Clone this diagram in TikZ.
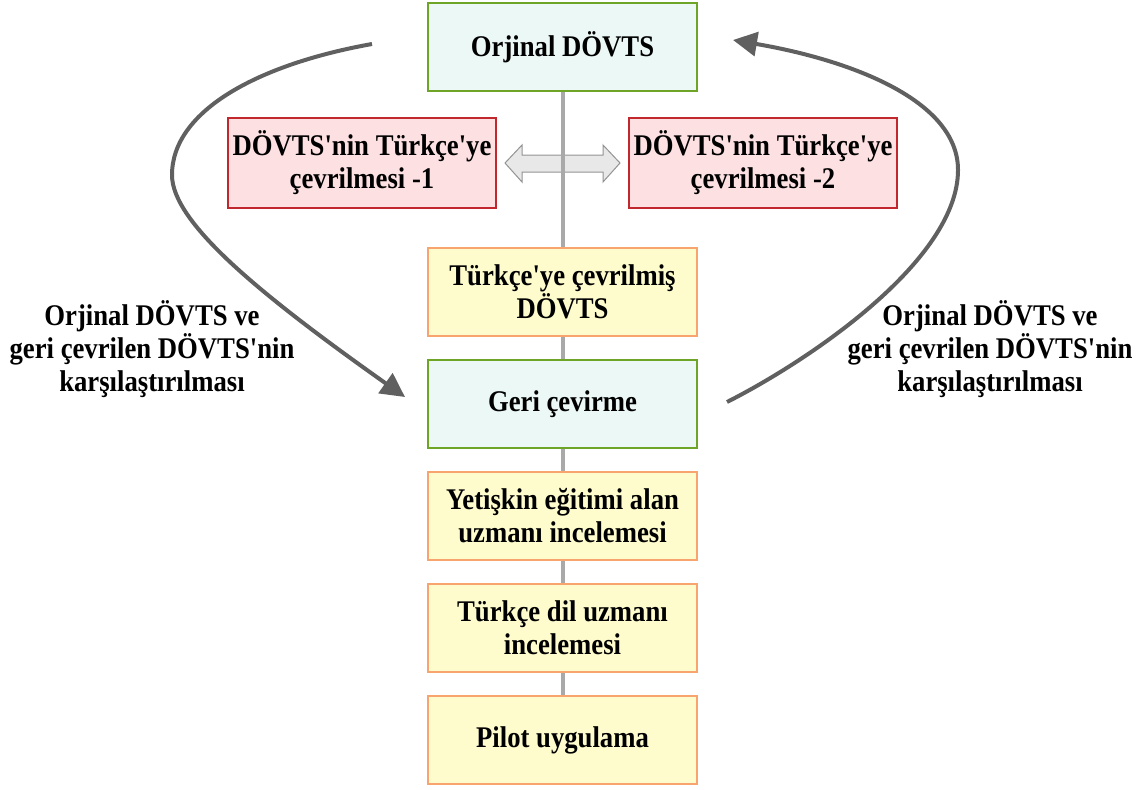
\documentclass[tikz,border=0pt]{standalone}
\usepackage{fontspec}
\setmainfont{Liberation Serif}
\newfontfamily\lblfont[FakeStretch=0.89]{Liberation Serif}
\usetikzlibrary{arrows.meta}
\definecolor{grnb}{HTML}{6FA526}
\definecolor{grnf}{HTML}{EBF8F6}
\definecolor{redb}{HTML}{C0282D}
\definecolor{redf}{HTML}{FDE0E1}
\definecolor{yelb}{HTML}{F8A46E}
\definecolor{yelf}{HTML}{FEFCCD}
\definecolor{linec}{HTML}{A9A9A9}
\definecolor{arrc}{HTML}{606060}
\tikzset{
  txt/.style={font=\lblfont\bfseries\fontsize{30}{33}\selectfont, align=center},
  boxbase/.style={txt, rectangle, line width=1.6pt, minimum width=269pt, minimum height=88pt, inner sep=2pt},
  greenbox/.style={boxbase, draw=grnb, fill=grnf},
  redbox/.style={boxbase, draw=redb, fill=redf, minimum width=268pt, minimum height=90pt},
  yellowbox/.style={boxbase, draw=yelb, fill=yelf},
  curvearrow/.style={draw=arrc, line width=4pt, -{Triangle[length=24pt,width=24pt]}},
  spine/.style={draw=linec, line width=4pt},
  dblarrow/.style={draw=gray!85, fill=gray!18, line width=1pt},
}
\begin{document}
\begin{tikzpicture}[x=1pt,y=-1pt]
\useasboundingbox (0,0) rectangle (1147,789);
% double arrow
\draw[dblarrow] (505,163) -- (522,145) -- (522,155) -- (603,155) -- (603,145) -- (620,163)
  -- (603,182) -- (603,172) -- (522,172) -- (522,182) -- cycle;
% nodes
\node[greenbox] (orj) at (562.5,47) {Orjinal DÖVTS};
\node[redbox] (tr1) at (362,163) {DÖVTS'nin Türkçe'ye\\çevrilmesi -1};
\node[redbox] (tr2) at (763,163) {DÖVTS'nin Türkçe'ye\\çevrilmesi -2};
\node[yellowbox] (trd) at (562.5,292) {Türkçe'ye çevrilmiş\\DÖVTS};
\node[greenbox] (geri) at (562.5,404) {Geri çevirme};
\node[yellowbox] (yet) at (562.5,516) {Yetişkin eğitimi alan\\uzmanı incelemesi};
\node[yellowbox] (dil) at (562.5,628) {Türkçe dil uzmanı\\incelemesi};
\node[yellowbox] (pil) at (562.5,740) {Pilot uygulama};
% spine
\draw[spine] (orj.south) -- (trd.north);
\draw[spine] (trd.south) -- (geri.north);
\draw[spine] (geri.south) -- (yet.north);
\draw[spine] (yet.south) -- (dil.north);
\draw[spine] (dil.south) -- (pil.north);
% curved arrows
\coordinate (ls) at (372,44);
\coordinate (lm) at (172,175);
\coordinate (le) at (405,397);
\coordinate (rs) at (727,402);
\coordinate (rm) at (958,170);
\coordinate (re) at (733,40);
\draw[curvearrow] (ls) .. controls (260,64) and (172,110) .. (lm)
  .. controls (172,222) and (258,293) .. (le);
\draw[curvearrow] (rs) .. controls (810,360) and (958,260) .. (rm)
  .. controls (958,100) and (850,60) .. (re);
% labels
\node[txt] (lab1) at (152,349) {Orjinal DÖVTS ve\\geri çevrilen DÖVTS'nin\\karşılaştırılması};
\node[txt] (lab2) at (990,349) {Orjinal DÖVTS ve\\geri çevrilen DÖVTS'nin\\karşılaştırılması};
\end{tikzpicture}
\end{document}
